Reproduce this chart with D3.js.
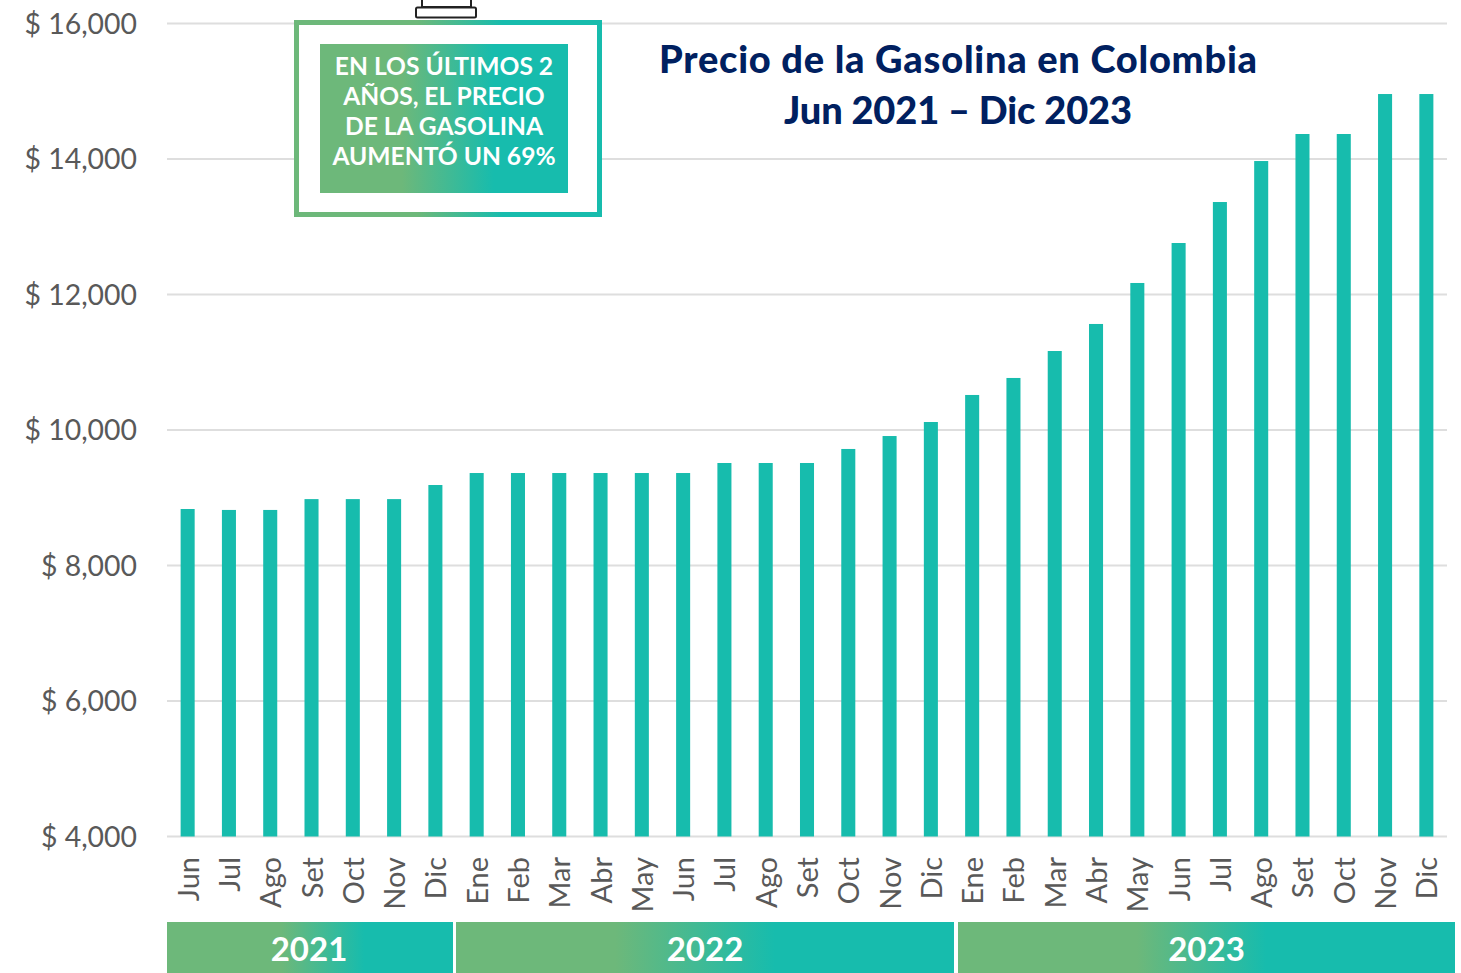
<!DOCTYPE html>
<html>
<head>
<meta charset="utf-8">
<script src="https://cdn.jsdelivr.net/npm/d3@7"></script>
<style>
  html, body { margin: 0; padding: 0; background: #fff; overflow: hidden; }
  svg { display: block; }
  text { font-family: Lato, "Open Sans", sans-serif; }
</style>
</head>
<body>
<svg id="chart" width="1461" height="973"></svg>
<script>
var months = ["Jun","Jul","Ago","Set","Oct","Nov","Dic",
  "Ene","Feb","Mar","Abr","May","Jun","Jul","Ago","Set","Oct","Nov","Dic",
  "Ene","Feb","Mar","Abr","May","Jun","Jul","Ago","Set","Oct","Nov","Dic"];
var prices = [8834,8820,8820,8980,8980,8980,9188,
  9365,9365,9365,9365,9365,9365,9513,9513,9513,9720,9911,10118,
  10517,10768,11166,11565,12170,12760,13365,13970,14369,14369,14959,14959];
var yTicks = [4000,6000,8000,10000,12000,14000,16000];
var years = ["2021","2022","2023"];
var titleLines = ["Precio de la Gasolina en Colombia","Jun 2021 – Dic 2023"];
var noteLines = ["EN LOS ÚLTIMOS 2","AÑOS, EL PRECIO","DE LA GASOLINA","AUMENTÓ UN 69%"];

var svg = d3.select("#chart");
var plotLeft = 167, plotRight = 1447, plotTop = 23.5, plotBottom = 836.5;

var x = d3.scaleBand().domain(d3.range(months.length)).range([plotLeft, plotRight]).paddingInner(0.66).paddingOuter(0.33);
var y = d3.scaleLinear().domain([4000,16000]).range([plotBottom, plotTop]);

//gradients used on the box and the year bands
var defs = svg.append("defs");
function addGradient(id, from, to) {
  var g = defs.append("linearGradient").attr("id", id);
  g.append("stop").attr("offset", from).attr("stop-color", "#6DB87A");
  g.append("stop").attr("offset", to).attr("stop-color", "#17BCAD");
}
addGradient("noteFill", "0.33", "0.70");
addGradient("frameFill", "0.40", "0.68");
addGradient("bandFill0", "0.40", "0.69");
addGradient("bandFill1", "0.32", "0.64");
addGradient("bandFill2", "0.36", "0.62");

//grid
svg.append("g").selectAll("line").data(yTicks).join("line")
  .attr("x1", plotLeft).attr("x2", plotRight)
  .attr("y1", function(d){ return y(d); }).attr("y2", function(d){ return y(d); })
  .attr("stroke", "#DEDEDE").attr("stroke-width", 2);

//y labels
svg.append("g").selectAll("text").data(yTicks).join("text")
  .attr("x", 137).attr("y", function(d){ return y(d) + 10; })
  .attr("text-anchor", "end").attr("font-size", 28.4).attr("fill", "#595959")
  .text(function(d){ return "$ " + d3.format(",")(d); });

//bars
svg.append("g").selectAll("rect").data(prices).join("rect")
  .attr("x", function(d,i){ return x(i); })
  .attr("width", x.bandwidth())
  .attr("y", function(d){ return y(d); })
  .attr("height", function(d){ return plotBottom - y(d); })
  .attr("fill", "#17BCAD");

//month labels
svg.append("g").selectAll("text").data(months).join("text")
  .attr("transform", function(d,i){ return "translate(" + (x(i) + x.bandwidth()/2 + 11) + ",857) rotate(-90)"; })
  .attr("text-anchor", "end").attr("font-size", 29).attr("fill", "#595959")
  .text(function(d){ return d; });

//year bands
var bandEdges = [[167,453],[456,954],[958,1455]];
var bands = svg.append("g");
years.forEach(function(yr, i) {
  var e = bandEdges[i];
  bands.append("rect").attr("x", e[0]).attr("y", 922).attr("width", e[1]-e[0]).attr("height", 51)
    .attr("fill", "url(#bandFill" + i + ")");
  bands.append("text").attr("x", (e[0]+e[1])/2 - (i==0 ? 1 : 0)).attr("y", 961)
    .attr("text-anchor", "middle").attr("font-size", 33).attr("font-weight", 700).attr("fill", "#fff")
    .text(yr);
});

//title
svg.append("g").selectAll("text").data(titleLines).join("text")
  .attr("x", 958).attr("y", function(d,i){ return 73 + i*51; })
  .attr("text-anchor", "middle").attr("font-size", 38).attr("font-weight", 900).attr("fill", "#002060")
  .attr("textLength", function(d,i){ return i==0 ? 598 : 348; })
  .text(function(d){ return d; });

//note box
svg.append("rect").attr("x", 296.5).attr("y", 22.5).attr("width", 303).attr("height", 192)
  .attr("fill", "#fff").attr("stroke", "url(#frameFill)").attr("stroke-width", 5);
svg.append("rect").attr("x", 320).attr("y", 44).attr("width", 248).attr("height", 149).attr("fill", "url(#noteFill)");
svg.append("g").selectAll("text").data(noteLines).join("text")
  .attr("x", 444).attr("y", function(d,i){ return 74.5 + i*30.3; })
  .attr("text-anchor", "middle").attr("font-size", 24.6).attr("font-weight", 700).attr("fill", "#fff")
  .text(function(d){ return d; });

//clipped icon above the box
svg.append("rect").attr("x", 422).attr("y", -6).attr("width", 49).attr("height", 13)
  .attr("fill", "#fff").attr("stroke", "#222").attr("stroke-width", 2);
svg.append("rect").attr("x", 416).attr("y", 7.5).attr("width", 60).attr("height", 10).attr("rx", 1.5)
  .attr("fill", "#fff").attr("stroke", "#222").attr("stroke-width", 2);
</script>
</body>
</html>
